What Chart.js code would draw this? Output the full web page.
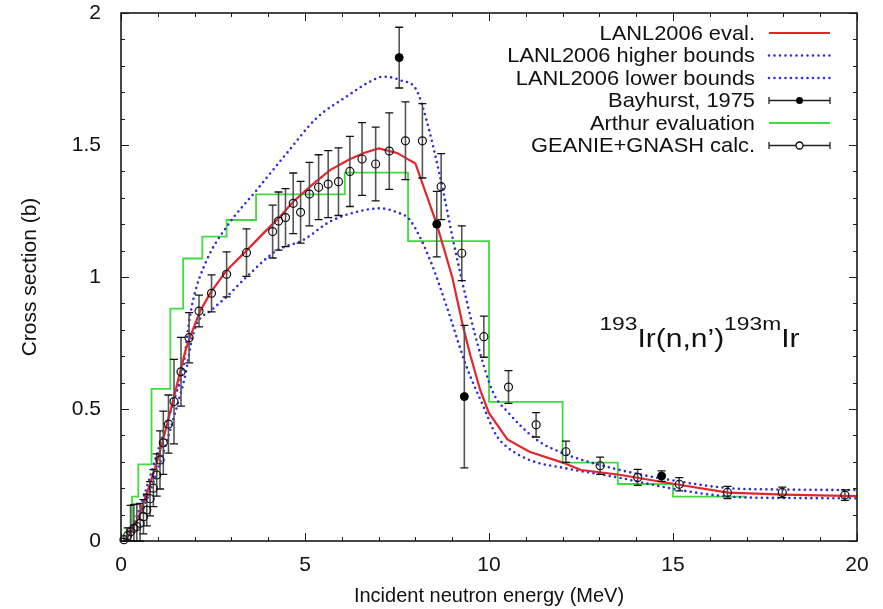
<!DOCTYPE html>
<html><head><meta charset="utf-8">
<script src="https://cdn.jsdelivr.net/npm/chart.js@4/dist/chart.umd.min.js"></script>
<style>html,body{margin:0;padding:0;background:#fff}#wrap{width:883px;height:609px}</style>
</head><body><div id="wrap"><canvas id="c" width="883" height="609"></canvas></div>
<script>
// ---- data ----
const lanlE  = [0.1,0.3,0.5,0.75,1.0,1.25,1.5,1.75,1.88,2.15,2.42,2.87,3.41,3.9,4.32,4.68,5.2,5.68,6.2,6.6,7.0,7.5,8.0,8.58,9.0,9.3,9.5,9.76,10.0,10.5,11.1,12.0,12.5,13.5,15.2,16.5,18.0,20.0];
const lanlXS = [0.0,0.04,0.1,0.2,0.31,0.44,0.58,0.72,0.774,0.87,0.938,1.025,1.10,1.17,1.228,1.285,1.35,1.405,1.445,1.47,1.487,1.47,1.43,1.2,1.0,0.81,0.7,0.572,0.484,0.385,0.338,0.297,0.269,0.252,0.212,0.183,0.176,0.17];

const upperE  = [0.1,0.5,1.0,1.5,1.69,1.83,1.96,2.33,2.87,3.69,4.5,5.3,6.2,6.7,7.13,7.6,8.03,8.3,8.67,9.12,9.66,10.12,10.5,11.3,12.02,13.38,15.19,16.55,18.0,20.0];
const upperXS = [0.0,0.12,0.34,0.56,0.654,0.81,0.913,1.064,1.19,1.33,1.468,1.6,1.69,1.735,1.759,1.745,1.708,1.595,1.38,1.077,0.761,0.56,0.49,0.383,0.332,0.275,0.225,0.2,0.195,0.193];

const lowerE  = [0.1,0.5,1.0,1.5,1.75,1.92,2.05,2.46,2.87,3.41,4.23,4.95,5.68,6.5,7.04,7.5,7.85,8.4,8.85,9.39,9.85,10.2,10.5,11.1,12.1,13.38,15.19,16.55,18.0,20.0];
const lowerXS = [0.0,0.09,0.27,0.5,0.63,0.76,0.82,0.875,0.925,1.0,1.1,1.14,1.21,1.25,1.26,1.245,1.216,1.064,0.888,0.66,0.509,0.4,0.355,0.307,0.275,0.244,0.193,0.168,0.163,0.162];

const bayE   = [7.56,8.58,9.33,14.69];
const bayXS  = [1.831,1.2,0.547,0.246];
const bayErr = [0.115,0.124,0.27,0.02];

const arthurE  = [0.0,0.15,0.3,0.47,0.83,1.34,1.69,2.21,2.87,3.67,6.08,7.8,10.0,12.0,13.5,15.0,17.0];
const arthurXS = [0.0,0.05,0.168,0.29,0.576,0.88,1.07,1.153,1.216,1.313,1.395,1.136,0.527,0.297,0.216,0.168,0.168];

const geanieE   = [0.08,0.18,0.26,0.35,0.43,0.52,0.61,0.70,0.79,0.88,0.97,1.06,1.15,1.29,1.44,1.63,1.85,2.12,2.46,2.87,3.41,4.12,4.28,4.47,4.68,4.88,5.12,5.37,5.63,5.91,6.22,6.55,6.92,7.29,7.73,8.19,8.7,9.26,9.86,10.53,11.28,12.09,13.02,14.04,15.17,16.48,17.97,19.67];
const geanieXS  = [0.005,0.02,0.035,0.048,0.055,0.067,0.092,0.117,0.16,0.2,0.25,0.307,0.372,0.443,0.528,0.641,0.77,0.871,0.938,1.01,1.092,1.172,1.212,1.225,1.279,1.245,1.314,1.34,1.352,1.361,1.40,1.447,1.428,1.477,1.516,1.516,1.342,1.09,0.774,0.583,0.44,0.338,0.285,0.241,0.215,0.184,0.184,0.174];
const geanieErr = [0.005,0.03,0.1,0.09,0.085,0.075,0.065,0.06,0.065,0.07,0.08,0.11,0.12,0.11,0.16,0.13,0.095,0.06,0.07,0.085,0.09,0.1,0.11,0.11,0.115,0.117,0.12,0.123,0.127,0.128,0.133,0.138,0.14,0.145,0.147,0.141,0.125,0.104,0.078,0.062,0.046,0.04,0.033,0.03,0.025,0.023,0.02,0.02];

const xTickLabels = ['0','5','10','15','20'];
const yTickLabels = ['0','0.5','1','1.5','2'];
const seriesNames = ['LANL2006 eval.','LANL2006 higher bounds','LANL2006 lower bounds','Bayhurst, 1975','Arthur evaluation','GEANIE+GNASH calc.'];
const reactionLabel = [['193','sup'],['Ir(n,n\u2019)','main'],['193m','sup'],['Ir','main']];

// ---- helpers ----
const pts = (xs, ys) => xs.map((v, i) => ({x: v, y: ys[i]}));
const FONT = '"Liberation Sans", Arial, Helvetica, sans-serif';
const RED = '#e4262b', BLUE = '#2e2ed6', GREEN = '#3fdc3f', BAR = '#555';

const errorBars = {
  id: 'errorBars',
  beforeDatasetDraw(chart, args) {
    const ds = chart.data.datasets[args.index];
    if (!ds.errors) return;
    const {ctx} = chart, x = chart.scales.x, y = chart.scales.y;
    ctx.save();
    ds.data.forEach((p, i) => {
      const e = ds.errors[i];
      const px = x.getPixelForValue(p.x);
      const y1 = y.getPixelForValue(p.y + e), y0 = y.getPixelForValue(Math.max(0, p.y - e));
      ctx.strokeStyle = BAR; ctx.lineWidth = 1.6;
      ctx.beginPath(); ctx.moveTo(px, y0); ctx.lineTo(px, y1); ctx.stroke();
      ctx.strokeStyle = '#111'; ctx.lineWidth = 1.3;
      ctx.beginPath();
      ctx.moveTo(px - 4, y0); ctx.lineTo(px + 4, y0);
      ctx.moveTo(px - 4, y1); ctx.lineTo(px + 4, y1);
      ctx.stroke();
    });
    ctx.restore();
  }
};

const frame = {
  id: 'frame',
  afterDatasetsDraw(chart) {
    const {ctx, chartArea: a} = chart, x = chart.scales.x, y = chart.scales.y;
    ctx.save();
    ctx.strokeStyle = '#1a1a1a';
    ctx.lineWidth = 1;
    ctx.beginPath();
    for (let v = 0; v <= 20; v++) {
      const px = Math.round(x.getPixelForValue(v)) + 0.5, L = v % 5 === 0 ? 8 : 4;
      ctx.moveTo(px, a.bottom); ctx.lineTo(px, a.bottom - L);
      ctx.moveTo(px, a.top); ctx.lineTo(px, a.top + L);
    }
    for (let i = 0; i <= 20; i++) {
      const py = Math.round(y.getPixelForValue(i / 10)) + 0.5, L = i % 5 === 0 ? 8 : 4;
      ctx.moveTo(a.left, py); ctx.lineTo(a.left + L, py);
      ctx.moveTo(a.right, py); ctx.lineTo(a.right - L, py);
    }
    ctx.stroke();
    ctx.lineWidth = 1.6;
    ctx.strokeRect(a.left, a.top, a.right - a.left, a.bottom - a.top);
    ctx.restore();
  }
};

const legendAndLabel = {
  id: 'legendAndLabel',
  afterDraw(chart) {
    const {ctx, chartArea: a} = chart, x = chart.scales.x, y = chart.scales.y;
    ctx.save();
    // legend
    const textRight = a.right - 102, s0 = a.right - 88, s1 = a.right - 27, sc = (s0 + s1) / 2;
    ctx.font = '21px ' + FONT;
    ctx.textAlign = 'right'; ctx.textBaseline = 'middle';
    chart.data.datasets.forEach((ds, i) => {
      const ry = a.top + 20 + i * 22.5;
      ctx.fillStyle = '#111';
      ctx.save();
      ctx.translate(textRight, ry); ctx.scale(1.04, 1);
      ctx.fillText(ds.label, 0, 1);
      ctx.restore();
      ctx.save();
      if (ds.errors) {
        ctx.strokeStyle = '#222'; ctx.lineWidth = 1.3;
        ctx.beginPath();
        ctx.moveTo(s0, ry); ctx.lineTo(s1, ry);
        ctx.moveTo(s0, ry - 3.5); ctx.lineTo(s0, ry + 3.5);
        ctx.moveTo(s1, ry - 3.5); ctx.lineTo(s1, ry + 3.5);
        ctx.stroke();
        ctx.beginPath(); ctx.arc(sc, ry, 3.5, 0, Math.PI * 2);
        if (ds.pointStyleFill) { ctx.fillStyle = '#000'; ctx.fill(); }
        else { ctx.fillStyle = '#fff'; ctx.fill(); ctx.strokeStyle = '#000'; ctx.stroke(); }
      } else {
        ctx.strokeStyle = ds.borderColor; ctx.lineWidth = ds.borderWidth;
        ctx.lineCap = ds.borderCapStyle || 'butt';
        ctx.setLineDash(ds.borderDash || []);
        ctx.beginPath(); ctx.moveTo(s0, ry); ctx.lineTo(s1, ry); ctx.stroke();
      }
      ctx.restore();
    });
    // reaction label, anchored in data coordinates
    let px = x.getPixelForValue(13.0);
    const base = y.getPixelForValue(0.735);
    ctx.textAlign = 'left'; ctx.textBaseline = 'alphabetic'; ctx.fillStyle = '#111';
    const sx = 1.2;
    reactionLabel.forEach(([t, kind]) => {
      ctx.font = (kind === 'sup' ? '19px ' : '25px ') + FONT;
      const w = ctx.measureText(t).width * sx;
      ctx.save();
      ctx.translate(px, kind === 'sup' ? base - 17 : base);
      ctx.scale(sx, 1);
      ctx.fillText(t, 0, 0);
      ctx.restore();
      px += w;
    });
    ctx.restore();
  }
};

new Chart(document.getElementById('c'), {
  type: 'scatter',
  data: {
    datasets: [
      {label: seriesNames[0], data: pts(lanlE, lanlXS), showLine: true, borderColor: RED, borderWidth: 2.2, pointRadius: 0, tension: 0, order: 3},
      {label: seriesNames[1], data: pts(upperE, upperXS), showLine: true, borderColor: BLUE, borderWidth: 2.6, borderDash: [0, 5.5], borderCapStyle: 'round', pointRadius: 0, cubicInterpolationMode: 'monotone', order: 4},
      {label: seriesNames[2], data: pts(lowerE, lowerXS), showLine: true, borderColor: BLUE, borderWidth: 2.6, borderDash: [0, 5.5], borderCapStyle: 'round', pointRadius: 0, cubicInterpolationMode: 'monotone', order: 4},
      {label: seriesNames[3], data: pts(bayE, bayXS), errors: bayErr, showLine: false, pointStyleFill: true, pointRadius: 4, pointBackgroundColor: '#000', pointBorderColor: '#000', pointBorderWidth: 1, order: 1, clip: 8},
      {label: seriesNames[4], data: pts(arthurE, arthurXS), showLine: true, stepped: 'before', borderColor: GREEN, borderWidth: 1.8, pointRadius: 0, order: 5},
      {label: seriesNames[5], data: pts(geanieE, geanieXS), errors: geanieErr, showLine: false, pointRadius: 4, pointBackgroundColor: 'rgba(255,255,255,0)', pointBorderColor: '#111', pointBorderWidth: 1.2, order: 2, clip: 8}
    ]
  },
  options: {
    responsive: false, animation: false, devicePixelRatio: 1,
    layout: {padding: {top: 13, right: 26, left: 0, bottom: 0}},
    plugins: {legend: {display: false}, tooltip: {enabled: false}},
    scales: {
      x: {
        type: 'linear', min: 0, max: 20,
        afterFit(s) { s.height = 68; s.paddingLeft = 0; s.paddingRight = 0; },
        afterBuildTicks(s) { s.ticks = xTickLabels.map(t => ({value: Number(t)})); },
        ticks: {font: {size: 21, family: FONT}, color: '#111', padding: 4, maxRotation: 0,
                callback: (v) => xTickLabels[xTickLabels.map(Number).indexOf(v)]},
        grid: {display: false}, border: {display: false},
        title: {display: true, text: 'Incident neutron energy (MeV)', font: {size: 20, family: FONT}, color: '#111', padding: {top: 0, bottom: 1}}
      },
      y: {
        type: 'linear', min: 0, max: 2,
        afterFit(s) { s.width = 121; s.paddingTop = 0; s.paddingBottom = 0; },
        afterBuildTicks(s) { s.ticks = yTickLabels.map(t => ({value: Number(t)})); },
        ticks: {font: {size: 21, family: FONT}, color: '#111', padding: 12,
                callback: (v) => yTickLabels[yTickLabels.map(Number).indexOf(v)]},
        grid: {display: false}, border: {display: false},
        title: {display: true, text: 'Cross section (b)', font: {size: 21, family: FONT}, color: '#111', padding: {top: 18, bottom: 0}}
      }
    }
  },
  plugins: [errorBars, frame, legendAndLabel]
});
</script>
</body></html>
